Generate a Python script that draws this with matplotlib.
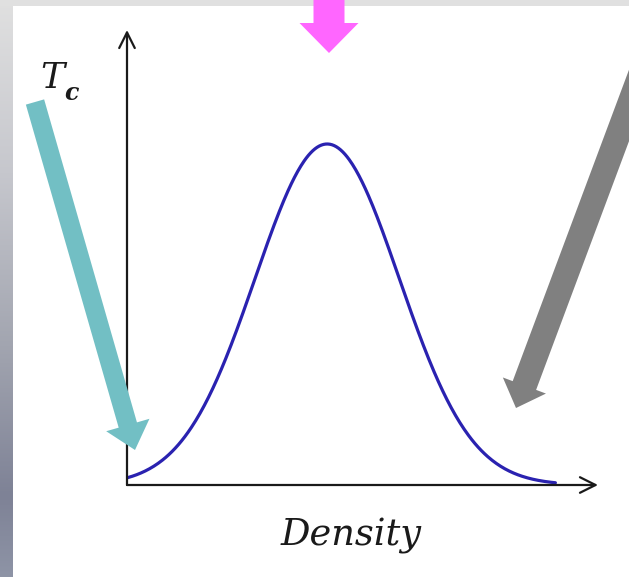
"""Schematic density curve with annotation arrows."""

import matplotlib

matplotlib.use("Agg")
import matplotlib.pyplot as plt
import numpy as np
from matplotlib.colors import LinearSegmentedColormap
from matplotlib.patches import FancyArrow, Rectangle

# curve: normal density, x measured in units of sigma
curve_mu = 0.0
curve_sigma = 1.0
curve_x_start = -2.78
curve_x_end = 3.17

x_label = "Density"
marker_main = "T"
marker_sub = "c"

# border gradient stops (position, colour)
border_stops = [
    (0.0, "#e0e0e0"),
    (0.3, "#c6c7cd"),
    (0.6, "#a2a5b0"),
    (0.86, "#7e8296"),
    (1.0, "#8e94a6"),
]

W, H = 629, 577
fig = plt.figure(figsize=(W / 100, H / 100), dpi=100)
fig.patch.set_facecolor("white")

# plot area in pixels: x 127..598, y 30..485
px0, px1, py_top, py_bot = 127, 598, 30, 485
ax = fig.add_axes([px0 / W, 1 - py_bot / H, (px1 - px0) / W, (py_bot - py_top) / H])
xs = np.linspace(curve_x_start, curve_x_end, 400)
ys = np.exp(-0.5 * ((xs - curve_mu) / curve_sigma) ** 2) / (curve_sigma * np.sqrt(2 * np.pi))
peak = ys.max()
ax.plot(xs, ys, color="#2a22b0", lw=2.3, solid_capstyle="round", zorder=3)
ax.set_xlim(curve_x_start, curve_x_start + (px1 - px0) / 72.0)
ax.set_ylim(0, peak * (py_bot - py_top) / (485 - 144))
ax.axis("off")

arrow_kw = dict(arrowstyle="->", color="#1a1a1a", lw=1.6, mutation_scale=28, shrinkA=0, shrinkB=0)
ax.annotate("", xy=(1, 0), xytext=(0, 0), xycoords="axes fraction", arrowprops=arrow_kw, annotation_clip=False)
ax.annotate("", xy=(0, 1), xytext=(0, 0), xycoords="axes fraction", arrowprops=arrow_kw, annotation_clip=False)

# overlay in pixel coordinates for border, labels and block arrows
ov = fig.add_axes([0, 0, 1, 1], zorder=5)
ov.axis("off")
ov.patch.set_alpha(0)

cmap = LinearSegmentedColormap.from_list("border", border_stops)
ov.imshow(np.linspace(0, 1, 256).reshape(-1, 1), cmap=cmap, extent=(0, 13, H, 0), aspect="auto", zorder=1)
ov.add_patch(Rectangle((0, 0), W, 6, color="#e0e0e0", lw=0, zorder=1))
ov.set_xlim(0, W)
ov.set_ylim(H, 0)

ov.text(281, 545, x_label, fontsize=26.5, style="italic", family="DejaVu Serif", color="#1a1a1a",
        ha="left", va="baseline")
ov.text(40, 88, marker_main, fontsize=26, style="italic", family="DejaVu Serif", color="#1a1a1a",
        ha="left", va="baseline")
ov.text(64, 100, marker_sub, fontsize=17, style="italic", weight="bold", family="DejaVu Serif",
        color="#1a1a1a", ha="left", va="baseline")


def block_arrow(tail, tip, width, head_width, head_length, color):
    dx, dy = tip[0] - tail[0], tip[1] - tail[1]
    ov.add_patch(FancyArrow(tail[0], tail[1], dx, dy, width=width, head_width=head_width,
                            head_length=head_length, length_includes_head=True,
                            color=color, lw=0, zorder=4))


block_arrow((35, 102), (135, 450), 19, 45, 26, "#72bfc4")
block_arrow((329, -2), (329, 53), 31, 59, 30, "#ff66ff")
block_arrow((643, 68), (516, 408), 25, 46, 24, "#808080")

fig.savefig("out.png", dpi=100)
